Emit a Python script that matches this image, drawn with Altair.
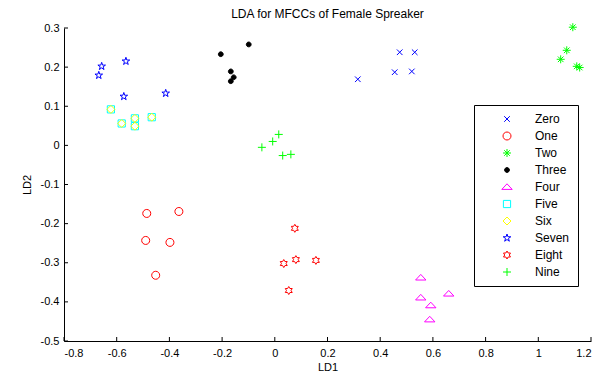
import altair as alt
import pandas as pd

digits = ["Zero", "One", "Two", "Three", "Four", "Five", "Six", "Seven", "Eight", "Nine"]
colors = ["#0000ff", "#ff0000", "#00ff00", "#000000", "#ff00ff", "#00ffff", "#ffff00", "#0000ff", "#ff0000", "#00ff00"]
fills = ["transparent", "transparent", "transparent", "#000000", "transparent", "transparent",
         "transparent", "transparent", "transparent", "transparent"]

X_MARK = "M-0.7,-0.7L0.7,0.7M0.7,-0.7L-0.7,0.7"
CIRCLE = "M-1,0A1,1 0 1,0 1,0A1,1 0 1,0 -1,0Z"
ASTERISK = "M-1,0L1,0M0,-1L0,1M-0.7,-0.7L0.7,0.7M0.7,-0.7L-0.7,0.7"
DOT = "M-0.6,0A0.6,0.6 0 1,0 0.6,0A0.6,0.6 0 1,0 -0.6,0Z"
TRIANGLE = "M0,-0.8L1.3,0.6L-1.3,0.6Z"
SQUARE = "M-0.9,-0.9L0.9,-0.9L0.9,0.9L-0.9,0.9Z"
DIAMOND = "M0,-1L1,0L0,1L-1,0Z"
PENTAGRAM = ("M0,-1L0.225,-0.309L0.951,-0.309L0.363,0.118L0.588,0.809L0,0.382"
             "L-0.588,0.809L-0.363,0.118L-0.951,-0.309L-0.225,-0.309Z")
HEXAGRAM = ("M0,-1L0.289,-0.5L0.866,-0.5L0.577,0L0.866,0.5L0.289,0.5L0,1"
            "L-0.289,0.5L-0.866,0.5L-0.577,0L-0.866,-0.5L-0.289,-0.5Z")
PLUS = "M-1,0L1,0M0,-1L0,1"
shapes = [X_MARK, CIRCLE, ASTERISK, DOT, TRIANGLE, SQUARE, DIAMOND, PENTAGRAM, HEXAGRAM, PLUS]

zero_x = [0.315, 0.474, 0.531, 0.455, 0.520]
zero_y = [0.169, 0.238, 0.238, 0.187, 0.189]
one_x = [-0.486, -0.364, -0.490, -0.398, -0.452]
one_y = [-0.174, -0.169, -0.243, -0.248, -0.332]
two_x = [1.131, 1.108, 1.085, 1.146, 1.157]
two_y = [0.302, 0.243, 0.220, 0.202, 0.199]
three_x = [-0.099, -0.205, -0.167, -0.156, -0.167]
three_y = [0.258, 0.233, 0.189, 0.174, 0.164]
four_x = [0.554, 0.554, 0.660, 0.592, 0.588]
four_y = [-0.338, -0.389, -0.379, -0.409, -0.445]
five_x = [-0.622, -0.581, -0.531, -0.531, -0.467]
five_y = [0.092, 0.056, 0.069, 0.049, 0.072]
six_x = [-0.622, -0.581, -0.531, -0.531, -0.467]
six_y = [0.092, 0.056, 0.069, 0.049, 0.072]
seven_x = [-0.657, -0.668, -0.565, -0.573, -0.414]
seven_y = [0.202, 0.179, 0.215, 0.125, 0.133]
eight_x = [0.076, 0.034, 0.080, 0.156, 0.053]
eight_y = [-0.212, -0.302, -0.292, -0.294, -0.371]
nine_x = [0.015, -0.008, -0.049, 0.030, 0.061]
nine_y = [0.028, 0.010, -0.005, -0.026, -0.023]

xticks = [-0.8, -0.6, -0.4, -0.2, 0, 0.2, 0.4, 0.6, 0.8, 1.0, 1.2]
yticks = [-0.5, -0.4, -0.3, -0.2, -0.1, 0, 0.1, 0.2, 0.3]

series = [(zero_x, zero_y), (one_x, one_y), (two_x, two_y), (three_x, three_y), (four_x, four_y),
          (five_x, five_y), (six_x, six_y), (seven_x, seven_y), (eight_x, eight_y), (nine_x, nine_y)]
rows = []
for name, (xs, ys) in zip(digits, series):
    for a, b in zip(xs, ys):
        rows.append({"digit": name, "LD1": a, "LD2": b})
df = pd.DataFrame(rows)

W, H = 527, 313
FONT = "Liberation Sans"
lab = "abs(datum.value) < 1e-9 ? '0' : toString(round(datum.value * 10) / 10)"

xscale = alt.Scale(domain=[-0.8, 1.2], nice=False, zero=False)
yscale = alt.Scale(domain=[-0.5, 0.3], nice=False, zero=False)
xaxis = alt.Axis(values=xticks, title="LD1", ticks=False, grid=False,
                 labelExpr=lab, labelPadding=6, titlePadding=3, labelOverlap=False)
yaxis = alt.Axis(values=yticks, title="LD2", ticks=False, grid=False,
                 labelExpr=lab, labelPadding=5, titlePadding=8, labelOverlap=False)

legend = alt.Legend(title=None, orient="none", legendX=410, legendY=77,
                    strokeColor="black", fillColor="white", padding=8,
                    labelFontSize=12, labelFont=FONT, labelColor="black",
                    symbolStrokeWidth=1, rowPadding=5, symbolOffset=19,
                    labelOffset=22, symbolSize=64)

points = alt.Chart(df).mark_point(strokeWidth=1, opacity=1, size=64).encode(
    x=alt.X("LD1:Q", scale=xscale, axis=xaxis),
    y=alt.Y("LD2:Q", scale=yscale, axis=yaxis),
    stroke=alt.Stroke("digit:N", scale=alt.Scale(domain=digits, range=colors), legend=legend),
    fill=alt.Fill("digit:N", scale=alt.Scale(domain=digits, range=fills), legend=legend),
    shape=alt.Shape("digit:N", scale=alt.Scale(domain=digits, range=shapes), legend=legend),
)

xt = alt.Chart(pd.DataFrame({"LD1": xticks})).mark_rule(color="black", strokeWidth=1).encode(
    x=alt.X("LD1:Q", scale=xscale, axis=xaxis), y=alt.value(H - 4), y2=alt.value(H))
yt = alt.Chart(pd.DataFrame({"LD2": yticks})).mark_rule(color="black", strokeWidth=1).encode(
    y=alt.Y("LD2:Q", scale=yscale, axis=yaxis), x=alt.value(0), x2=alt.value(4))

chart = alt.layer(points, xt, yt).properties(
    width=W, height=H,
    title=alt.Title("LDA for MFCCs of Female Spreaker", fontSize=12, font=FONT,
                    fontWeight="normal", color="black", offset=0),
    autosize=alt.AutoSizeParams(type="none"),
    padding={"left": 56, "top": 20, "right": 4, "bottom": 30},
).configure_view(stroke=None).configure_axis(
    domainColor="black", labelColor="black", titleColor="black",
    labelFont=FONT, titleFont=FONT, labelFontSize=11, titleFontSize=11,
    titleFontWeight="normal"
)

chart.save("out.html", embed_options={"renderer": "svg", "actions": False})
